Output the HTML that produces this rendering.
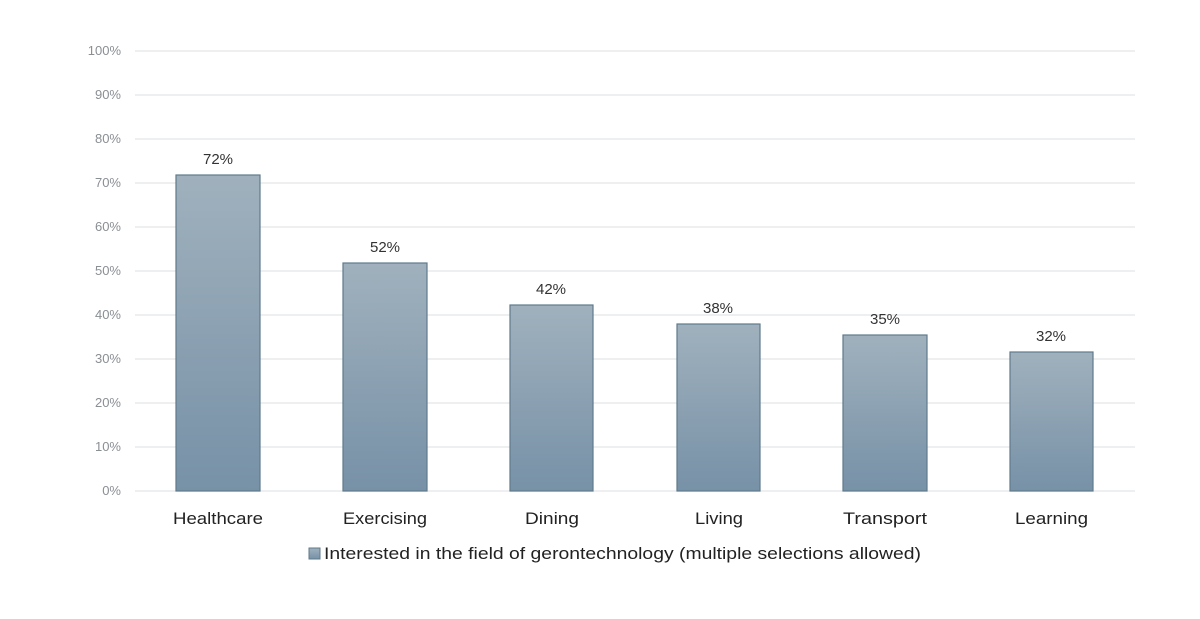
<!DOCTYPE html>
<html><head><meta charset="utf-8"><style>
body{margin:0;background:#fff;}
svg{display:block;font-family:"Liberation Sans",sans-serif;}
</style></head><body>
<svg width="1200" height="619" viewBox="0 0 1200 619">
<defs>
<linearGradient id="g" x1="0" y1="0" x2="0" y2="1">
<stop offset="0" stop-color="#a0b1bd"/><stop offset="1" stop-color="#7791a7"/>
</linearGradient>
</defs>
<g stroke="#e2e5e8" stroke-width="1.2">
<line x1="135" x2="1135" y1="51" y2="51"/><line x1="135" x2="1135" y1="95" y2="95"/>
<line x1="135" x2="1135" y1="139" y2="139"/><line x1="135" x2="1135" y1="183" y2="183"/>
<line x1="135" x2="1135" y1="227" y2="227"/><line x1="135" x2="1135" y1="271" y2="271"/>
<line x1="135" x2="1135" y1="315" y2="315"/><line x1="135" x2="1135" y1="359" y2="359"/>
<line x1="135" x2="1135" y1="403" y2="403"/><line x1="135" x2="1135" y1="447" y2="447"/>
<line x1="135" x2="1135" y1="491" y2="491"/>
</g>
<g fill="#8a8f94" font-size="13" text-anchor="end">
<text x="121" y="55">100%</text><text x="121" y="99">90%</text><text x="121" y="143">80%</text>
<text x="121" y="187">70%</text><text x="121" y="231">60%</text><text x="121" y="275">50%</text>
<text x="121" y="319">40%</text><text x="121" y="363">30%</text><text x="121" y="407">20%</text>
<text x="121" y="451">10%</text><text x="121" y="495">0%</text>
</g>
<g fill="url(#g)" stroke="#5f7a8c" stroke-width="1.2">
<rect x="176" y="175" width="84" height="316"/>
<rect x="343" y="263" width="84" height="228"/>
<rect x="510" y="305" width="83" height="186"/>
<rect x="677" y="324" width="83" height="167"/>
<rect x="843" y="335" width="84" height="156"/>
<rect x="1010" y="352" width="83" height="139"/>
</g>
<g fill="#333" font-size="15" text-anchor="middle">
<text x="218" y="164">72%</text><text x="385" y="252">52%</text><text x="551" y="294">42%</text>
<text x="718" y="313">38%</text><text x="885" y="324">35%</text><text x="1051" y="341">32%</text>
</g>
<g fill="#222" font-size="17">
<text x="173" y="524" textLength="90" lengthAdjust="spacingAndGlyphs">Healthcare</text>
<text x="343" y="524" textLength="84" lengthAdjust="spacingAndGlyphs">Exercising</text>
<text x="525" y="524" textLength="54" lengthAdjust="spacingAndGlyphs">Dining</text>
<text x="695" y="524" textLength="48" lengthAdjust="spacingAndGlyphs">Living</text>
<text x="843" y="524" textLength="84" lengthAdjust="spacingAndGlyphs">Transport</text>
<text x="1015" y="524" textLength="73" lengthAdjust="spacingAndGlyphs">Learning</text>
</g>
<rect x="309" y="548" width="11" height="11" fill="url(#g)" stroke="#5f7a8c"/>
<text x="324" y="559" fill="#222" font-size="17" textLength="597" lengthAdjust="spacingAndGlyphs">Interested in the field of gerontechnology (multiple selections allowed)</text>
</svg>
</body></html>
